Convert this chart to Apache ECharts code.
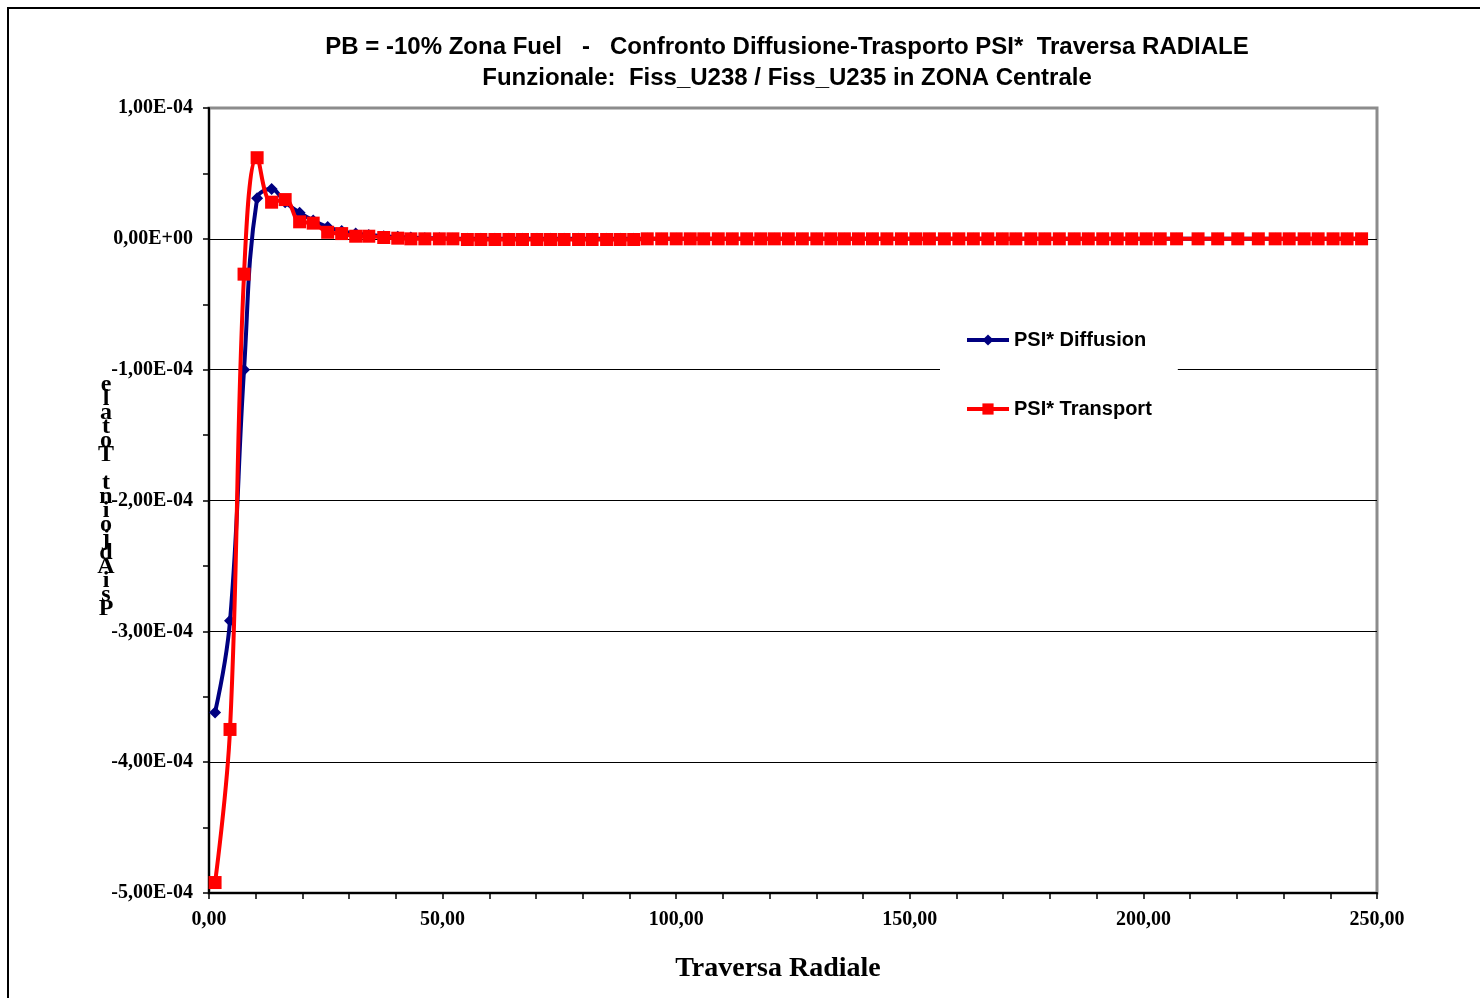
<!DOCTYPE html>
<html>
<head>
<meta charset="utf-8">
<script src="https://cdn.jsdelivr.net/npm/echarts@6.0.0/dist/echarts.min.js"></script>
<style>
  html, body { margin: 0; padding: 0; background: #fff; }
  #main { width: 1480px; height: 998px; }
</style>
</head>
<body>
<div id="main"></div>
<script>
// radial mesh (cm)
var xMesh = [
  1.3, 4.5, 7.5, 10.3, 13.4, 16.3, 19.4, 22.3, 25.4, 28.4,
  31.4, 34.2, 37.4, 40.4, 43.2, 46.2, 49.3, 52.2, 55.3, 58.2,
  61.2, 64.2, 67.1, 70.2, 73.1, 76.0, 79.1, 82.0, 85.1, 88.0,
  90.9, 93.8, 96.9, 100.0, 103.0, 105.9, 109.0, 112.0, 115.1, 118.1,
  121.0, 124.0, 127.0, 130.1, 133.1, 136.0, 139.0, 142.0, 145.1, 148.2,
  151.3, 154.2, 157.4, 160.5, 163.6, 166.7, 169.8, 172.7, 175.9, 178.9,
  182.0, 185.2, 188.2, 191.3, 194.4, 197.5, 200.6, 203.6, 207.1, 211.7,
  215.9, 220.2, 224.6, 228.2, 231.2, 234.4, 237.4, 240.6, 243.6, 246.7
];

// values in units of 1E-04
var psiDiffusion = [
  -3.62, -2.92, -1.00, 0.31, 0.38, 0.28, 0.20, 0.14, 0.09, 0.06,
  0.04, 0.03, 0.02, 0.015, 0.01, 0.005, 0.005, 0, 0, 0,
  0, 0, 0, 0, 0, 0, 0, 0, 0, 0,
  0, 0, 0, 0, 0, 0, 0, 0, 0, 0,
  0, 0, 0, 0, 0, 0, 0, 0, 0, 0,
  0, 0, 0, 0, 0, 0, 0, 0, 0, 0,
  0, 0, 0, 0, 0, 0, 0, 0, 0, 0,
  0, 0, 0, 0, 0, 0, 0, 0, 0, 0
];

var psiTransport = [
  -4.92, -3.75, -0.27, 0.62, 0.28, 0.30, 0.13, 0.12, 0.05, 0.04,
  0.02, 0.02, 0.01, 0.005, 0, 0, 0, 0, -0.005, -0.005,
  -0.005, -0.005, -0.005, -0.005, -0.005, -0.005, -0.005, -0.005, -0.005, -0.005,
  -0.005, 0, 0, 0, 0, 0, 0, 0, 0, 0,
  0, 0, 0, 0, 0, 0, 0, 0, 0, 0,
  0, 0, 0, 0, 0, 0, 0, 0, 0, 0,
  0, 0, 0, 0, 0, 0, 0, 0, 0, 0,
  0, 0, 0, 0, 0, 0, 0, 0, 0, 0
];

var seriesNames = ['PSI* Diffusion', 'PSI* Transport'];
var titleLines = [
  'PB = -10% Zona Fuel   -   Confronto Diffusione-Trasporto PSI*  Traversa RADIALE',
  'Funzionale:  Fiss_U238 / Fiss_U235 in ZONA Centrale'
];
var xTitle = 'Traversa Radiale';
var yTitle = 'PsiAdjoint Totale';

function pairs(xs, ys) {
  var out = [];
  for (var i = 0; i < xs.length; i++) out.push([xs[i], ys[i]]);
  return out;
}

function sciLabel(v) {
  if (Math.abs(v) < 1e-9) v = 0;
  var s = (v * 1e-4).toExponential(2);
  var parts = s.split('e');
  var exp = parseInt(parts[1], 10);
  var sign = exp < 0 ? '-' : '+';
  var e = Math.abs(exp);
  return parts[0].replace('.', ',') + 'E' + sign + (e < 10 ? '0' + e : e);
}

var serif = '"Liberation Serif", "Times New Roman", serif';
var sans = '"Liberation Sans", Arial, sans-serif';

var myChart = echarts.init(document.getElementById('main'));

myChart.setOption({
  backgroundColor: '#fff',
  animation: false,
  grid: {
    left: 209, top: 108, right: 103, bottom: 105,
    show: true, borderColor: '#8c8c8c', borderWidth: 3, backgroundColor: '#fff'
  },
  legend: {
    data: seriesNames,
    orient: 'vertical',
    left: 940, top: 313,
    padding: [17, 26, 17, 25],
    itemWidth: 42, itemHeight: 14,
    itemGap: 49,
    itemTextGap: 3,
    backgroundColor: '#fff',
    lineStyle: { width: 4 },
    textStyle: { fontFamily: sans, fontWeight: 'bold', fontSize: 20, color: '#000' }
  },
  xAxis: {
    type: 'value', min: 0, max: 250, interval: 50,
    axisLine: { onZero: false, lineStyle: { color: '#000', width: 2 } },
    axisTick: { length: 6, lineStyle: { color: '#000', width: 1.5 } },
    minorTick: { show: true, splitNumber: 5, length: 6, lineStyle: { color: '#000', width: 1.5 } },
    splitLine: { show: false },
    axisLabel: {
      margin: 17, color: '#000', fontFamily: serif, fontWeight: 'bold', fontSize: 20,
      formatter: function (v) { return v.toFixed(2).replace('.', ','); }
    }
  },
  yAxis: {
    type: 'value', min: -5, max: 1, interval: 1,
    axisLine: { lineStyle: { color: '#000', width: 2 } },
    axisTick: { length: 6, lineStyle: { color: '#000', width: 1.5 } },
    minorTick: { show: true, splitNumber: 2, length: 6, lineStyle: { color: '#000', width: 1.5 } },
    splitLine: { show: true, showMinLine: false, showMaxLine: false, lineStyle: { color: '#000', width: 1 } },
    axisLabel: {
      margin: 16, color: '#000', fontFamily: serif, fontWeight: 'bold', fontSize: 20,
      formatter: sciLabel
    }
  },
  series: [
    {
      name: seriesNames[0], type: 'line', smooth: 0.4,
      data: pairs(xMesh, psiDiffusion),
      symbol: 'diamond', symbolSize: 12,
      itemStyle: { color: '#000080' },
      lineStyle: { color: '#000080', width: 4 },
      z: 3
    },
    {
      name: seriesNames[1], type: 'line', smooth: 0.4,
      data: pairs(xMesh, psiTransport),
      symbol: 'rect', symbolSize: 13,
      itemStyle: { color: '#ff0000' },
      lineStyle: { color: '#ff0000', width: 4 },
      z: 4
    }
  ],
  graphic: [
    {
      type: 'rect', z: 100, silent: true,
      shape: { x: 8, y: 8, width: 1520, height: 1030 },
      style: { fill: 'none', stroke: '#000', lineWidth: 2 }
    },
    {
      type: 'text', z: 100, x: 787, y: 47,
      style: {
        text: titleLines[0], fill: '#000', align: 'center', verticalAlign: 'middle',
        font: 'bold 24px ' + sans
      }
    },
    {
      type: 'text', z: 100, x: 787, y: 78,
      style: {
        text: titleLines[1], fill: '#000', align: 'center', verticalAlign: 'middle',
        font: 'bold 24px ' + sans
      }
    },
    {
      type: 'text', z: 100, x: 778, y: 969,
      style: {
        text: xTitle, fill: '#000', align: 'center', verticalAlign: 'middle',
        font: 'bold 28px ' + serif
      }
    },
    {
      // letters stacked upright, read bottom to top
      type: 'text', z: 100, x: 106, y: 378,
      style: {
        text: yTitle.split('').reverse().join('\n'), fill: '#000',
        align: 'center', verticalAlign: 'top', lineHeight: 14,
        font: 'bold 24px ' + serif
      }
    }
  ]
});
</script>
</body>
</html>
